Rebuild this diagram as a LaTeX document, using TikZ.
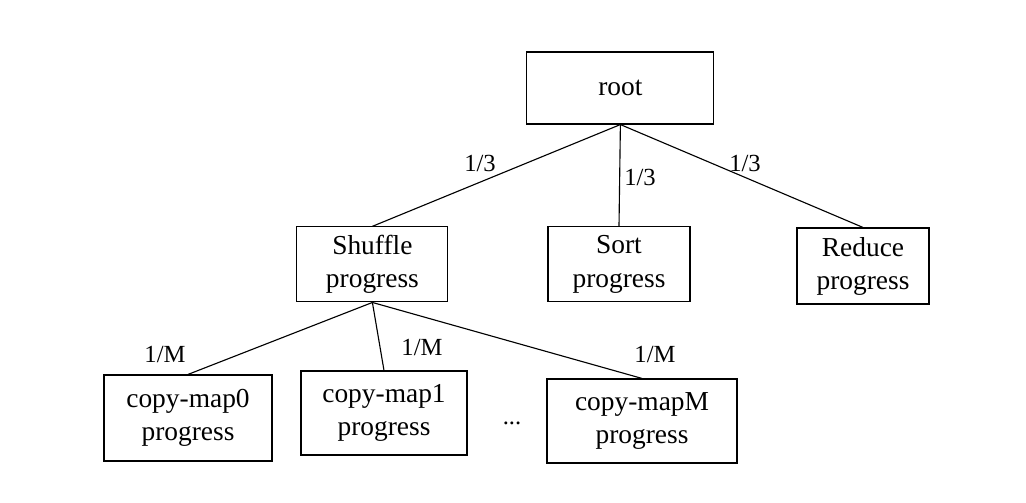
\documentclass[tikz,border=0pt]{standalone}
\usepackage{fontspec}
\setmainfont{Liberation Serif}
\usepackage{tikz}
\usetikzlibrary{positioning}

\tikzset{
  box/.style={draw, line width=0.8pt, align=center, inner sep=2pt,
    font=\fontsize{19.5}{23.5}\selectfont},
  wt/.style={font=\fontsize{17.5}{19}\selectfont, inner sep=0pt}
}

\begin{document}
\begin{tikzpicture}[line width=0.8pt]
\useasboundingbox (0,0) rectangle (25.65,12.55);

\node[box, minimum width=4.675cm, minimum height=1.8cm] (root) at (15.51,10.35) {root};

\node[box, minimum width=3.775cm, minimum height=1.875cm] (shuffle) at (9.31,5.94) {Shuffle\\progress};
\node[box, minimum width=3.55cm, minimum height=1.875cm] (sort) at (15.475,5.94) {Sort\\progress};
\node[box, minimum width=3.3cm, minimum height=1.9cm] (reduce) at (21.575,5.9) {Reduce\\progress};

\node[box, minimum width=4.2cm, minimum height=2.15cm] (map0) at (4.7,2.1) {copy-map0\\progress};
\node[box, minimum width=4.15cm, minimum height=2.1cm] (map1) at (9.6,2.225) {copy-map1\\progress};
\node[box, minimum width=4.75cm, minimum height=2.1cm] (mapM) at (16.05,2.025) {copy-mapM\\progress};
\node[wt] (dots) at (12.8,1.975) {...};

\draw (root.south)--(shuffle.north);
\draw (root.south)--(sort.north);
\draw (root.south)--(reduce.north);

\draw (shuffle.south)--(map0.north);
\draw (shuffle.south)--(map1.north);
\draw (shuffle.south)--(mapM.north);

\node[wt] (w1) at (12.0,8.475) {1/3};
\node[wt] (w2) at (16.0,8.125) {1/3};
\node[wt] (w3) at (18.625,8.475) {1/3};

\node[wt] (m1) at (4.125,3.675) {1/M};
\node[wt] (m2) at (10.55,3.875) {1/M};
\node[wt] (m3) at (16.375,3.7) {1/M};

\end{tikzpicture}
\end{document}
